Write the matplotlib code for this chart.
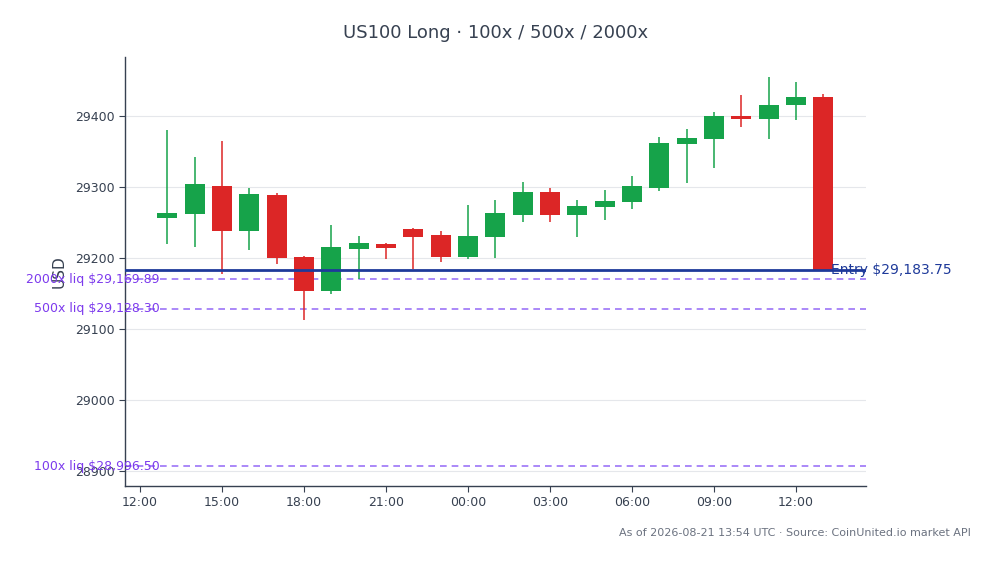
import numpy as np
import pandas as pd
import matplotlib
matplotlib.use("Agg")
import matplotlib.pyplot as plt
import matplotlib.dates as mdates
import matplotlib.transforms as mtransforms

# hourly candles, values
times = pd.date_range("2026-08-20 13:00", periods=25, freq="h")
opens  = [29256, 29262, 29301, 29238, 29289, 29201, 29153, 29213, 29220, 29241, 29232, 29202, 29230,
          29261, 29293, 29261, 29272, 29279, 29299, 29360, 29368, 29400, 29395, 29416, 29427]
closes = [29264, 29304, 29238, 29290, 29200, 29153, 29215, 29221, 29214, 29230, 29202, 29231, 29263,
          29293, 29261, 29273, 29280, 29301, 29362, 29369, 29400, 29395, 29415, 29427, 29183.75]
highs  = [29380, 29342, 29364, 29299, 29291, 29203, 29246, 29231, 29221, 29242, 29238, 29274, 29282,
          29307, 29298, 29281, 29296, 29315, 29370, 29382, 29406, 29430, 29455, 29448, 29431]
lows   = [29219, 29216, 29178, 29211, 29192, 29112, 29150, 29171, 29199, 29184, 29195, 29199, 29200,
          29251, 29251, 29230, 29254, 29269, 29295, 29305, 29326, 29384, 29368, 29394, 29183.75]

entry = 29183.75
liq_labels = ["2000x liq $29,169.89", "500x liq $29,128.30", "100x liq $28,996.50"]
liq_levels = [29169.89, 29128.30, 28906.50]  # where the lines sit in the picture

GREEN = "#16a34a"
RED = "#dc2626"
ENTRY_C = "#1e3a9a"
LIQ_LINE = "#8b5cf6"
LIQ_TEXT = "#7c3aed"
TXT = "#374151"

fig = plt.figure(figsize=(9.94, 5.64), dpi=100)
fig.patch.set_facecolor("white")
ax = fig.add_axes([0.1258, 0.1383, 0.7454, 0.7607])

x = mdates.date2num(times)
o = np.array(opens); c = np.array(closes); h = np.array(highs); l = np.array(lows)
up = c >= o
cols = np.where(up, GREEN, RED)

ax.vlines(x, l, h, colors=cols, linewidth=1.1, zorder=3)
body_lo = np.minimum(o, c)
body_h = np.maximum(np.abs(c - o), 1.5)
ax.bar(x, body_h, bottom=body_lo, width=0.0305, color=cols, zorder=4, linewidth=0)

# entry + liquidation lines
ax.axhline(entry, color=ENTRY_C, linewidth=2, zorder=5)
ax.text(x[-1] + 0.3 / 24, entry, "Entry $29,183.75", color=ENTRY_C, fontsize=10,
        va="center", ha="left", zorder=6, clip_on=False)

trans = mtransforms.blended_transform_factory(ax.transAxes, ax.transData)
for lab, p in zip(liq_labels, liq_levels):
    ax.axhline(p, color=LIQ_LINE, linewidth=1.2, linestyle=(0, (4, 3)), alpha=0.85, zorder=2)
    ax.text(0.047, p, lab, transform=trans, color=LIQ_TEXT,
            fontsize=9, va="center", ha="right", zorder=6, clip_on=False)

ax.set_xlim(mdates.date2num(pd.Timestamp("2026-08-20 11:27")),
            mdates.date2num(pd.Timestamp("2026-08-21 14:34")))
ax.set_ylim(28879, 29483)
ax.set_yticks([28900, 29000, 29100, 29200, 29300, 29400])
ax.xaxis.set_major_locator(mdates.HourLocator(byhour=range(0, 24, 3)))
ax.xaxis.set_major_formatter(mdates.DateFormatter("%H:%M"))

ax.grid(axis="y", color="#e5e7eb", linewidth=0.8, zorder=0)
ax.set_axisbelow(True)
for s in ["top", "right"]:
    ax.spines[s].set_visible(False)
for s in ["left", "bottom"]:
    ax.spines[s].set_color("#374151")
    ax.spines[s].set_linewidth(1.0)
ax.tick_params(colors=TXT, labelsize=9, length=4)

ax.set_ylabel("USD", color=TXT, fontsize=11, labelpad=6)
ax.set_title("US100 Long · 100x / 500x / 2000x", color=TXT, fontsize=13, pad=14)

fig.text(0.977, 0.055, "As of 2026-08-21 13:54 UTC · Source: CoinUnited.io market API",
         ha="right", va="center", fontsize=8, color="#6b7280")

fig.savefig("out.png", dpi=100)
